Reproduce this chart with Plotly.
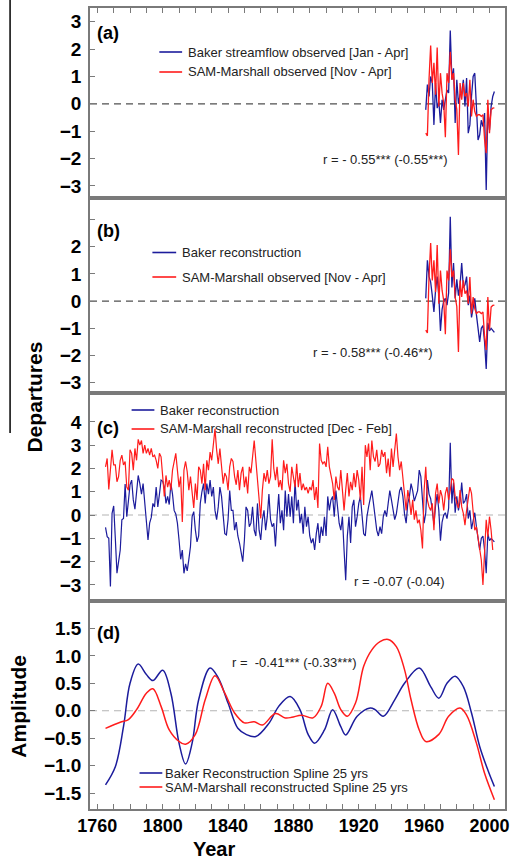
import plotly.graph_objects as go

# ---------------- data ----------------
OBS_START = 1961
baker_streamflow_obs = [-0.22, 0.7, 0.27, 1.0, 0.76, -0.77, 0.76, -0.16, 0.09, -0.7,
                        0.15, -0.22, 0.15, 0.5, 0.4, 2.68, 0.88, 1.3, -0.7, 0.88,
                        0.0, 0.33, 0.39, 0.88, -0.1, 0.94, -1.07, -0.77, 0.27, 1.0,
                        1.12, -0.22, -1.32, -1.13, -0.6, -0.83, -0.34, -3.15, -0.22, -0.95,
                        -0.1, 0.27, 0.45]
sam_marshall_obs = [-1.07, -1.17, 0.9, 2.13, 0.76, 1.5, 0.33, 2.06, -0.1, 1.12,
                    0.39, 0.02, -1.22, 1.12, 0.76, 1.9, 0.88, 1.12, 0.15, -0.2,
                    -1.87, 0.76, 0.15, 0.76, 0.27, 0.39, -0.1, 0.88, -0.46, 0.15,
                    -0.28, -0.46, -0.4, -0.4, -0.46, -0.4, -1.3, -1.8, 0.15, -1.07,
                    -0.22, -0.16, -0.15]

REC_START = 1765
baker_rec_early = [-0.53, -0.93, -1.0, -3.07, 0.07, 0.39, -1.0, -2.5, -2.0, -1.5,
                   -0.2, -0.15, 1.33, -0.07, 0.6, 1.3, 1.5, 0.65, 0.25, 0.9,
                   1.7, 1.35, 0.9, 1.35, 0.65, -0.07, -1.07, -0.35, -0.1, 0.5,
                   0.35, 1.2, 0.35, 0.9, 1.5, 1.45, 1.2, 0.5, 0.8, 0.45,
                   1.35, 0.9, 0.2, 0.05, -0.35, -1.07, -1.9, -1.5, -2.5, -2.1,
                   -2.4, -1.9, -1.35, -0.07, 0.15, -0.65, -1.15, -0.9, 0.5, 1.0,
                   1.35, 0.5, 1.35, 0.9, 1.5, 0.8, 1.2, 0.2, -0.2, 0.35,
                   1.2, 0.8, -0.07, -0.8, -0.85, -0.2, 1.05, 0.2, 0.2, -0.65,
                   -0.3, -0.9, -1.2, -1.6, -2.0, -1.07, 0.35, 0.2, -0.5, -0.35,
                   0.35, -0.65, -0.9, 0.5, -0.65, -1.07, -0.2, 0.2, -0.65, -0.07,
                   0.9, -0.2, -0.5, -0.35, -1.35, -0.07, 0.9, -0.35, 0.2, -0.65,
                   1.05, -0.07, 0.9, -0.07, 0.8, -0.35, 1.5, 0.2, 0.65, -0.35,
                   0.05, -0.8, 0.35, -0.5, -0.07, -0.9, -1.2, -1.0, -1.5, -0.8,
                   -0.35, -1.2, -0.5, -0.9, -0.07, -0.9, 0.8, 0.2, 0.65, 0.8,
                   -0.07, 1.05, 0.2, -0.35, -0.65, -0.07, -1.5, -2.8, -0.9, -0.07,
                   -1.2, 0.35, 0.65, -0.5, -0.07, 0.5, 0.8, -0.2, -0.8, -0.9,
                   -0.07, 0.35, 0.65, 1.05, 0.5, -0.07, -0.65, -0.9, -0.5, -0.8,
                   -0.07, 0.2, -0.07, 0.5, 1.05, 0.65, 0.2, -0.2, 0.05, 0.65,
                   1.05, 1.2, 0.8, 0.05, -0.35, 0.5, 0.8, 1.35, 1.05, 0.6,
                   0.8, 1.05, 1.93, 1.65, 0.65, -0.35]
baker_rec_late = [0.1, 1.5, 0.9, 0.7, 0.2, -0.4, 0.4, 0.9, 0.2, -1.1,
                  -0.3, 0.0, 0.1, -0.15, 0.3, 3.1, 0.5, 1.4, 0.1, 0.8,
                  0.2, 0.6, 1.4, 0.5, 0.6, 0.9, -0.15, 0.2, -0.6, -0.15,
                  0.1, -0.5, -1.0, -1.5, -1.0, -0.9, -1.5, -2.5, -0.8, -1.1,
                  -1.0, -1.1, -1.15]
sam_marshall_rec = [2.07, 2.43, 1.1, 1.93, 2.8, 2.15, 2.15, 1.43, 1.65, 2.35,
                    2.57, 2.15, 2.3, 1.2, 1.07, 2.8, 2.65, 1.93, 2.86, 2.35,
                    3.25, 3.0, 3.2, 2.65, 3.0, 2.65, 2.86, 2.57, 2.86, 2.5,
                    2.57, 2.35, 2.0, 2.65, 2.5, 1.65, 0.8, 1.7, 1.2, 1.5,
                    1.07, 1.93, 2.3, 2.65, 1.93, 1.2, 1.65, -0.3, 1.93, 2.3,
                    1.86, 1.07, 1.65, 0.8, 0.3, 1.35, 0.65, 2.07, 1.93, 1.35,
                    2.2, 1.07, 2.35, 1.93, 2.7, 2.35, 3.2, 3.7, 2.8, 2.2,
                    2.86, 2.15, 1.35, 1.8, 1.65, 1.07, 2.07, 2.43, 2.3, 1.65,
                    1.3, 1.93, 1.07, 1.8, 2.07, 1.2, 1.65, 0.93, 2.07, 1.8,
                    2.43, 3.2, 2.35, 1.5, 0.65, -0.15, 1.07, 1.8, 1.43, 1.93,
                    1.35, 1.65, 3.25, 2.0, 1.5, 2.07, 1.2, 1.5, 1.07, 2.35,
                    1.8, 2.2, 1.35, 1.0, 2.07, 1.65, 1.2, 2.2, 1.2, 1.8,
                    1.07, 1.35, 1.07, 1.2, 0.93, 1.2, 1.07, 1.5, 0.65, 1.2,
                    0.3, 3.07, 2.35, 2.2, 2.3, 2.07, 2.93, 2.07, 1.65, 1.35,
                    0.65, 1.65, 1.2, 1.07, 1.93, 1.2, 0.2, 1.07, 1.8, 0.8,
                    1.43, 1.07, 1.8, 1.2, 1.93, 1.5, 0.65, 2.07, 0.43, 3.0,
                    2.5, 3.07, 1.93, 3.2, 2.5, 2.3, 2.8, 2.07, 2.2, 2.8,
                    2.5, 2.7, 1.8, 2.43, 1.65, 2.86, 2.07, 2.8, 3.5, 2.5,
                    1.93, 2.3, 1.65, 0.8, 0.2, 1.07, 0.65, 0.0, 0.65, -0.2,
                    0.2, -0.35, -0.2, -0.65, -1.43, 1.07, 2.07, 0.65, 0.35, 0.2,
                    0.5, -0.65, 0.93, 1.35, 0.5, 1.07, 0.8, 0.2, 0.93, 1.2,
                    0.65, 1.07, 1.57, 1.5, 0.8, 0.5, 0.3, 1.07, 0.35, 0.07,
                    -0.43, 0.2, 0.65, 1.2, 0.93, -0.07, -0.65, -0.5, -0.93, -1.35,
                    -1.93, -3.0, -1.35, -0.2, -0.93, -0.07, -0.65, -1.5]

spline_years_baker = [1765, 1771, 1776, 1780, 1785, 1790, 1794, 1800, 1805, 1810, 1814, 1818,
                      1822, 1829, 1834, 1840, 1846, 1851, 1857, 1865, 1871, 1878, 1884,
                      1889, 1893, 1899, 1904, 1909, 1912, 1919, 1927, 1930, 1935, 1942,
                      1948, 1957, 1964, 1969, 1974, 1979, 1984, 1989, 1994, 1999, 2003]
spline_baker = [-1.35, -1.02, -0.29, 0.5, 0.85, 0.66, 0.55, 0.74, 0.32, -0.59, -0.97, -0.59,
                0.2, 0.78, 0.6, 0.14, -0.32, -0.43, -0.47, -0.23, 0.08, 0.26, 0.02,
                -0.43, -0.59, -0.35, 0.02, -0.29, -0.44, -0.1, 0.05, 0.02, -0.1, 0.2,
                0.5, 0.78, 0.44, 0.23, 0.5, 0.63, 0.44, -0.04, -0.65, -1.08, -1.38]
spline_years_sam = [1765, 1774, 1779, 1784, 1790, 1794, 1799, 1804, 1810, 1814, 1820, 1826,
                    1832, 1838, 1844, 1850, 1856, 1861, 1869, 1875, 1879, 1885, 1892,
                    1897, 1901, 1905, 1909, 1913, 1918, 1923, 1928, 1933, 1938, 1943,
                    1948, 1952, 1957, 1961, 1969, 1975, 1982, 1986, 1992, 1997, 2003]
spline_sam = [-0.32, -0.21, -0.16, 0.02, 0.32, 0.4, 0.08, -0.35, -0.56, -0.61, -0.43, 0.2,
              0.64, 0.32, -0.04, -0.22, -0.2, -0.26, -0.05, -0.13, -0.12, -0.08, -0.13,
              0.08, 0.5, 0.32, 0.02, -0.1, 0.14, 0.81, 1.11, 1.26, 1.3, 1.17,
              0.75, 0.2, -0.35, -0.56, -0.43, -0.1, 0.05, -0.08, -0.59, -1.14, -1.62]

x_tick_labels = [1760, 1800, 1840, 1880, 1920, 1960, 2000]

# ---------------- derived x values ----------------
obs_years = list(range(OBS_START, OBS_START + len(baker_streamflow_obs)))
sam_obs_years = list(range(OBS_START, OBS_START + len(sam_marshall_obs)))
baker_rec = baker_rec_early + baker_rec_late
rec_years = list(range(REC_START, REC_START + len(baker_rec)))
late_years = list(range(REC_START + len(baker_rec_early), REC_START + len(baker_rec)))
sam_rec_years = list(range(REC_START, REC_START + len(sam_marshall_rec)))

# ---------------- styling ----------------
W, H = 514, 860
L, R, T, B = 90, 5, 8, 51
PW, PH = W - L - R, H - T - B
def px(X):
    return (X - L) / PW
def py(Y):
    return (H - B - Y) / PH

BLUE = "#1c1c9c"
RED = "#ff1c1c"
FONT = "Liberation Sans, Arial, sans-serif"
AXC = "#7a7a7a"

fig = go.Figure()

def add(x, y, color, n, shape="linear", w=1.3):
    fig.add_trace(go.Scatter(x=x, y=y, mode="lines",
                             line=dict(color=color, width=w, shape=shape),
                             xaxis="x" if n == 1 else f"x{n}",
                             yaxis="y" if n == 1 else f"y{n}",
                             showlegend=False, hoverinfo="skip"))

# panel a
add(obs_years, baker_streamflow_obs, BLUE, 1)
add(sam_obs_years, sam_marshall_obs, RED, 1)
# panel b
add(late_years, baker_rec_late, BLUE, 2)
add(sam_obs_years, sam_marshall_obs, RED, 2)
# panel c
add(rec_years, baker_rec, BLUE, 3, w=1.2)
add(sam_rec_years, sam_marshall_rec, RED, 3, w=1.2)
# panel d
add(spline_years_baker, spline_baker, BLUE, 4, shape="spline", w=1.5)
add(spline_years_sam, spline_sam, RED, 4, shape="spline", w=1.5)

# domains from pixel boundaries
bounds = [8, 198, 393, 601, 809]
doms = [[py(bounds[i + 1]), py(bounds[i])] for i in range(4)]
doms[0][1] = 1.0
doms[3][0] = 0.0

xr = [1755.5, 2009.5]
xtickfont = dict(family=FONT, size=18, color="black", weight="bold")
ytickfont = dict(family=FONT, size=19, color="black", weight="bold")

common_x = dict(range=xr, showline=True, mirror=True, linecolor=AXC, linewidth=1.5,
                showgrid=False, zeroline=False)
common_y = dict(showline=True, mirror=True, linecolor=AXC, linewidth=1.5,
                showgrid=False, zeroline=False, ticks="inside", ticklen=5,
                tickcolor=AXC, tickwidth=1.2, tickfont=ytickfont, ticklabelstandoff=3)

layout = dict(
    width=W, height=H, margin=dict(l=L, r=R, t=T, b=B),
    paper_bgcolor="white", plot_bgcolor="white",
    xaxis=dict(**common_x, domain=[0, 1], anchor="y", side="top", ticks="inside",
               tick0=1760, dtick=10, ticklen=5, tickcolor=AXC, tickwidth=1.2,
               showticklabels=False),
    xaxis2=dict(**common_x, domain=[0, 1], anchor="y2", ticks="", showticklabels=False),
    xaxis3=dict(**common_x, domain=[0, 1], anchor="y3", ticks="", showticklabels=False),
    xaxis4=dict(**common_x, domain=[0, 1], anchor="y4", ticks="inside",
                tickvals=x_tick_labels, ticktext=[str(v) for v in x_tick_labels],
                ticklen=5, tickcolor=AXC, tickwidth=1.2, tickfont=xtickfont,
                ticklabelstandoff=0,
                minor=dict(ticks="inside", tick0=1760, dtick=10, ticklen=5,
                           tickcolor=AXC, tickwidth=1.2)),
    yaxis=dict(**common_y, domain=doms[0], anchor="x", range=[-3.44, 3.5],
               tickvals=[-3, -2, -1, 0, 1, 2, 3],
               ticktext=["\u22123", "\u22122", "\u22121", "0", "1", "2", "3"]),
    yaxis2=dict(**common_y, domain=doms[1], anchor="x2", range=[-3.38, 3.79],
                tickvals=[-3, -2, -1, 0, 1, 2, 3],
                ticktext=["\u22123", "\u22122", "\u22121", "0", "1", "2", ""]),
    yaxis3=dict(**common_y, domain=doms[2], anchor="x3", range=[-3.69, 5.24],
                tickvals=[-3, -2, -1, 0, 1, 2, 3, 4],
                ticktext=["\u22123", "\u22122", "\u22121", "0", "1", "2", "3", "4"]),
    yaxis4=dict(**common_y, domain=doms[3], anchor="x4", range=[-1.79, 2.0],
                tickvals=[-1.5, -1.0, -0.5, 0.0, 0.5, 1.0, 1.5],
                ticktext=["\u22121.5", "\u22121.0", "\u22120.5", "0.0", "0.5", "1.0", "1.5"]),
)
fig.update_layout(**layout)

shapes = []
# zero reference lines
for n, col, w in [(1, "#505050", 1.3), (2, "#505050", 1.3), (3, "#b4b4b4", 1.1), (4, "#b4b4b4", 1.1)]:
    xs = "x" if n == 1 else f"x{n}"
    ys = "y" if n == 1 else f"y{n}"
    shapes.append(dict(type="line", xref=f"{xs} domain", yref=ys, x0=0, x1=1, y0=0, y1=0,
                       line=dict(color=col, width=w, dash="7px,5px"), layer="below"))

def legline(X0, X1, Y, color):
    shapes.append(dict(type="line", xref="paper", yref="paper", x0=px(X0), x1=px(X1),
                       y0=py(Y), y1=py(Y), line=dict(color=color, width=1.6)))

legline(160, 183, 52, BLUE); legline(160, 183, 72, RED)
legline(153, 177, 252.5, BLUE); legline(153, 177, 277, RED)
legline(132, 155, 410, BLUE); legline(132, 155, 429, RED)
legline(140, 163, 773, BLUE); legline(140, 163, 787, RED)

# stray black rule on the left edge of the original figure
shapes.append(dict(type="line", xref="paper", yref="paper", x0=px(9.3), x1=px(9.3),
                   y0=py(0), y1=py(433), line=dict(color="black", width=1.5)))
fig.update_layout(shapes=shapes)

def ann(text, X, Y, size=13, bold=False, xanchor="left", angle=0, color="#222"):
    fig.add_annotation(text=text, x=px(X), y=py(Y), xref="paper", yref="paper",
                       showarrow=False, xanchor=xanchor, yanchor="middle",
                       textangle=angle, borderpad=0,
                       font=dict(family=FONT, size=size, color=color,
                                 weight="bold" if bold else "normal"))

# legends
ann("Baker streamflow observed [Jan - Apr]", 188, 52)
ann("SAM-Marshall observed [Nov - Apr]", 188, 72)
ann("Baker reconstruction", 182, 252.5)
ann("SAM-Marshall observed [Nov - Apr]", 182, 277)
ann("Baker reconstruction", 160, 410)
ann("SAM-Marshall reconstructed [Dec - Feb]", 160, 429)
ann("Baker Reconstruction Spline 25 yrs", 165, 773)
ann("SAM-Marshall reconstructed Spline 25 yrs", 165, 787)

# correlation notes
ann("r = - 0.55*** (-0.55***)", 324, 159)
ann("r = - 0.58*** (-0.46**)", 314, 352)
ann("r = -0.07 (-0.04)", 356, 581)
ann("r =  -0.41*** (-0.33***)", 232, 662)

# panel labels
for lab, Y in [("(a)", 33), ("(b)", 231), ("(c)", 428), ("(d)", 633)]:
    ann(lab, 96, Y, size=18, bold=True, color="black")

# axis titles
ann("Departures", 33, 397, size=21, bold=True, xanchor="center", angle=-90, color="black")
ann("Amplitude", 17, 706, size=21, bold=True, xanchor="center", angle=-90, color="black")
ann("Year", 215, 848.5, size=20, bold=True, xanchor="center", color="black")

fig.write_html("out.html", config={"displayModeBar": False},
               post_script="document.body.style.margin='0';document.body.style.overflow='hidden';")
